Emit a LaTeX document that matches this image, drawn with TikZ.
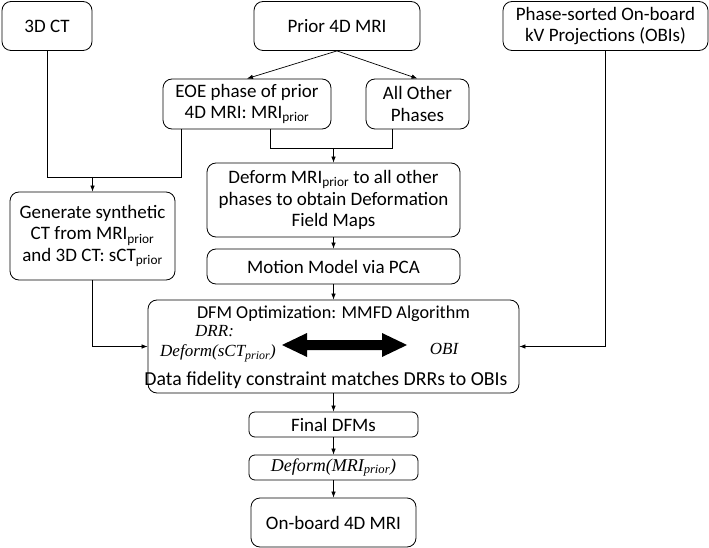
\documentclass[tikz,border=0pt]{standalone}
\usepackage{fontspec}
\setmainfont{Carlito}
\newfontfamily\tms{Liberation Serif}
\usetikzlibrary{arrows.meta,calc}
\begin{document}
\begin{tikzpicture}[x=1pt,y=-1pt,
  box/.style={draw, rounded corners=9pt, line width=0.8pt, align=center, inner sep=0pt,
    font=\fontsize{19}{21.7}\selectfont},
  conn/.style={line width=0.7pt},
  arr/.style={line width=0.7pt, -{Latex[length=6pt,width=4.5pt]}},
  lbl/.style={inner sep=0pt, font=\fontsize{19}{21.7}\selectfont},
  ital/.style={inner sep=0pt, font=\fontsize{17}{21}\selectfont\tms\itshape}]
\useasboundingbox (0,0) rectangle (709,548);
\node[box, minimum width=90pt, minimum height=49pt] (ct) at (47,26) {3D CT};
\node[box, minimum width=166pt, minimum height=49pt] (prior) at (337,26) {Prior 4D MRI};
\node[box, minimum width=205pt, minimum height=49pt] (obi) at (605.5,26) {Phase-sorted On-board\\kV Projections (OBIs)};
\node[box, minimum width=168pt, minimum height=50pt] (eoe) at (247,104) {EOE phase of prior\\4D MRI: MRI\textsubscript{prior}};
\node[box, minimum width=103pt, minimum height=50pt] (other) at (417.5,104) {All Other\\Phases};
\node[box, minimum width=253pt, minimum height=74pt] (deform) at (333.5,200) {Deform MRI\textsubscript{prior} to all other\\phases to obtain Deformation\\Field Maps};
\node[box, minimum width=165pt, minimum height=88pt] (gen) at (92.5,236) {Generate synthetic\\CT from MRI\textsubscript{prior}\\and 3D CT: sCT\textsubscript{prior}};
\node[box, minimum width=253pt, minimum height=35pt] (motion) at (333.5,266.5) {Motion Model via PCA};
\node[box, minimum width=371pt, minimum height=93pt] (dfm) at (333.5,346.5) {};
\node[lbl, font=\fontsize{18.2}{21}\selectfont] (dfmt) at (333.5,314) {DFM Optimization: MMFD Algorithm};
\node[ital, anchor=west] (drr) at (195,331) {DRR:};
\node[ital, anchor=west] (dsct) at (160,353) {Deform(sCT\textsubscript{prior})};
\node[ital] (obil) at (444,349) {OBI};
\node[lbl, font=\fontsize{19.8}{22}\selectfont] (fid) at (326,380) {Data fidelity constraint matches DRRs to OBIs};
\fill (282,345) -- (307,333) -- (307,340) -- (382,340) -- (382,333) -- (407,345)
  -- (382,357) -- (382,350) -- (307,350) -- (307,357) -- cycle;
\node[box, minimum width=169pt, minimum height=25pt, rounded corners=6pt] (final) at (333.5,424.5) {Final DFMs};
\node[box, minimum width=169pt, minimum height=25pt, rounded corners=6pt, font=\fontsize{18}{21}\selectfont\tms\itshape] (defmri) at (333.5,467.5) {Deform(MRI\textsubscript{prior})};
\node[box, minimum width=165pt, minimum height=49pt] (onboard) at (333.5,522.5) {On-board 4D MRI};
% connectors
\draw[arr] (prior.south) -- (eoe.north);
\draw[arr] (prior.south) -- (other.north);
\coordinate (a1) at (181,129);
\coordinate (m1) at (92.5,177);
\draw[conn] (ct.south) -- (ct.south |- m1) -- (a1 |- m1) -- (a1);
\draw[arr] (m1) -- (gen.north);
\coordinate (a2) at (270,129);
\coordinate (a3) at (392,129);
\coordinate (m2) at (333.5,148);
\draw[conn] (a2) -- (a2 |- m2) -- (a3 |- m2) -- (a3);
\draw[arr] (m2) -- (deform.north);
\draw[arr] (deform.south) -- (motion.north);
\draw[arr] (motion.south) -- (dfm.north);
\draw[arr] (gen.south) |- (dfm.west);
\draw[arr] (obi.south) |- (dfm.east);
\draw[arr] (dfm.south) -- (final.north);
\draw[arr] (final.south) -- (defmri.north);
\draw[arr] (defmri.south) -- (onboard.north);
\end{tikzpicture}
\end{document}
